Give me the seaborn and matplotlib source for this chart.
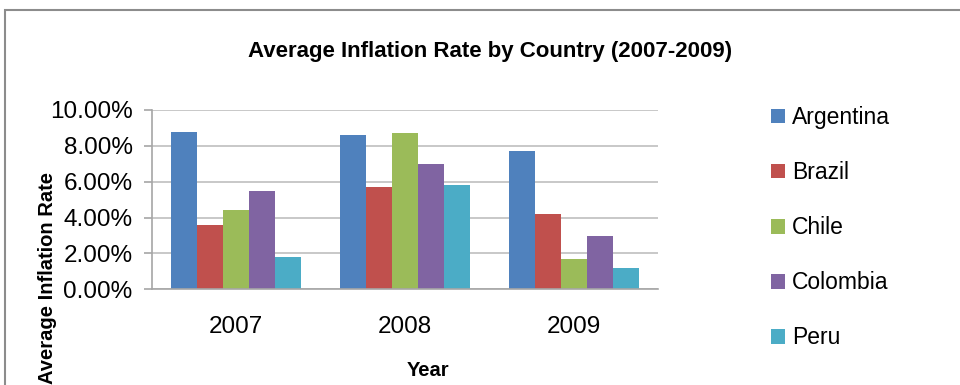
import matplotlib
matplotlib.use("Agg")
import matplotlib.pyplot as plt
import matplotlib.patches as mpatches
from matplotlib.ticker import PercentFormatter, MultipleLocator
import seaborn as sns
import pandas as pd

years = ["2007", "2008", "2009"]
countries = ["Argentina", "Brazil", "Chile", "Colombia", "Peru"]
argentina = [8.77, 8.60, 7.71]
brazil = [3.59, 5.71, 4.20]
chile = [4.42, 8.72, 1.69]
colombia = [5.48, 6.99, 2.97]
peru = [1.80, 5.82, 1.19]
colors = ["#4F81BD", "#C0504D", "#9BBB59", "#8064A2", "#4BACC6"]

series = [argentina, brazil, chile, colombia, peru]
rows = []
for c, vals in zip(countries, series):
    for y, v in zip(years, vals):
        rows.append({"Year": y, "Country": c, "Rate": v / 100.0})
df = pd.DataFrame(rows)

sns.set_theme(style="white")
plt.rcParams["font.family"] = ["Liberation Sans", "DejaVu Sans"]
plt.rcParams["text.color"] = "black"

fig = plt.figure(figsize=(9.6, 3.85), dpi=100)
ax = fig.add_axes([152/960, 1 - 289.3/385, (658-152)/960, (289.3-110)/385])

sns.barplot(data=df, x="Year", y="Rate", hue="Country", order=years,
            hue_order=countries, palette=colors, width=0.77, gap=0,
            saturation=1, edgecolor="none", linewidth=0, legend=False, ax=ax)

ax.set_ylim(0, 0.10)
ax.set_xlim(-0.5, 2.5)
ax.yaxis.set_major_locator(MultipleLocator(0.02))
ax.yaxis.set_major_formatter(PercentFormatter(xmax=1, decimals=2))
ax.grid(axis="y", color="#BFBFBF", linewidth=1.2)
ax.grid(axis="x", visible=False)
ax.set_axisbelow(True)
for s in ["top", "right"]:
    ax.spines[s].set_visible(False)
for s in ["left", "bottom"]:
    ax.spines[s].set_color("#A6A6A6")
    ax.spines[s].set_linewidth(1.2)
ax.tick_params(axis="y", which="major", length=6, width=1.2, color="#A6A6A6",
               direction="out", left=True, pad=8, labelsize=17.5, labelcolor="black")
ax.tick_params(axis="x", length=0, pad=19, labelsize=17.5, labelcolor="black")
ax.set_xlabel("")
ax.set_ylabel("")

fig.text(490/960, 1 - 51/385, "Average Inflation Rate by Country (2007-2009)",
         ha="center", va="center", fontsize=16, fontweight="bold", color="black")
fig.text(428/960, 1 - 370/385, "Year", ha="center", va="center",
         fontsize=14.5, fontweight="bold", color="black")
fig.text(48/960, 1 - 278/385, "Average Inflation Rate", rotation=90,
         ha="center", va="center", fontsize=14.5, fontweight="bold", color="black")

handles = [mpatches.Patch(facecolor=c, edgecolor="none", label=n)
           for c, n in zip(colors, countries)]
leg = fig.legend(handles=handles, loc="upper left",
                 bbox_to_anchor=(771/960, 1 - 106/385), frameon=False,
                 fontsize=16.5, handlelength=0.62, handleheight=0.62,
                 handletextpad=0.3, labelspacing=1.4, borderpad=0, borderaxespad=0)
for t in leg.get_texts():
    t.set_color("black")

border = mpatches.Rectangle((5/960, -0.1), 1.1, 1 - 10/385 + 0.1,
                            transform=fig.transFigure, fill=False,
                            edgecolor="#8C8C8C", linewidth=1.5, clip_on=False)
fig.patches.append(border)

fig.savefig("out.png", dpi=100)
